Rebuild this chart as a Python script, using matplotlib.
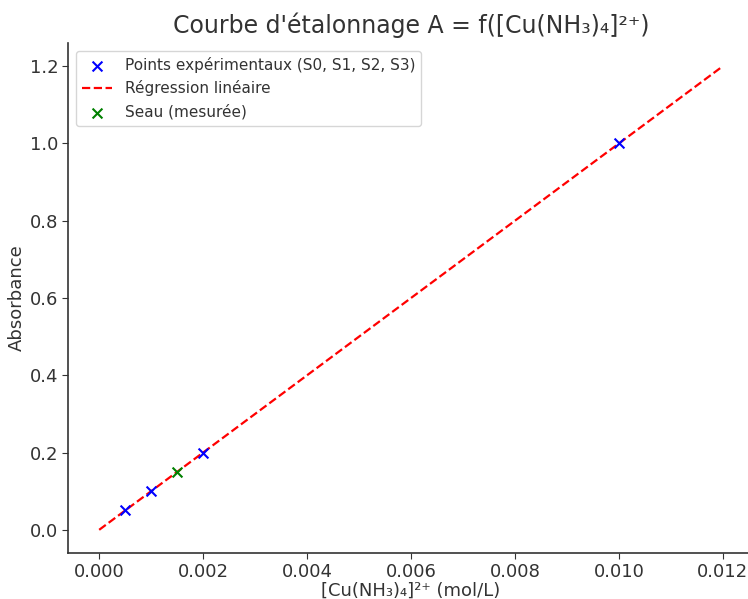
import matplotlib
matplotlib.use("Agg")
import matplotlib.pyplot as plt
import numpy as np

conc = [0.0005, 0.001, 0.002, 0.01]
absorb = [0.05, 0.1, 0.2, 1.0]
seau_conc = [0.0015]
seau_abs = [0.15]
fit_x = [0.0, 0.012]
slope = 100.0

plt.rcParams['font.family'] = ['DejaVu Sans']
TXT = '#333333'
plt.rcParams['text.color'] = TXT
plt.rcParams['axes.labelcolor'] = TXT
plt.rcParams['xtick.color'] = TXT
plt.rcParams['ytick.color'] = TXT

fig = plt.figure(figsize=(7.48, 5.99), dpi=100)
ax = fig.add_axes([68/748, (599-553)/599, 686/748, 510/599])

ax.scatter(conc, absorb, marker='x', color='blue', s=50, zorder=3,
           label='Points expérimentaux (S0, S1, S2, S3)')
fx = np.array(fit_x)
ax.plot(fx, slope*fx, 'r--', lw=1.6, label='Régression linéaire', zorder=2)
ax.scatter(seau_conc, seau_abs, marker='x', color='green', s=50, zorder=3,
           label='Seau (mesurée)')

ax.set_xticks(np.arange(0, 0.0121, 0.002))
ax.set_yticks(np.arange(0, 1.21, 0.2))
ax.set_xticklabels([f"{v:.3f}" for v in np.arange(0, 0.0121, 0.002)])
ax.set_yticklabels([f"{v:.1f}" for v in np.arange(0, 1.21, 0.2)])
ax.tick_params(labelsize=13, direction='out', length=4, pad=3, color='#333333')
for s in ['top', 'right']:
    ax.spines[s].set_visible(False)
for s in ['left', 'bottom']:
    ax.spines[s].set_color('#333333')
    ax.spines[s].set_linewidth(1.2)

ax.set_xlabel('[Cu(NH₃)₄]²⁺ (mol/L)', fontsize=13, labelpad=1)
ax.set_ylabel('Absorbance', fontsize=13, labelpad=3)
ax.set_title("Courbe d'étalonnage A = f([Cu(NH₃)₄]²⁺)", fontsize=17, pad=7)
ax.legend(loc='upper left', fontsize=11, frameon=True)

fig.savefig('out.png', dpi=100)
